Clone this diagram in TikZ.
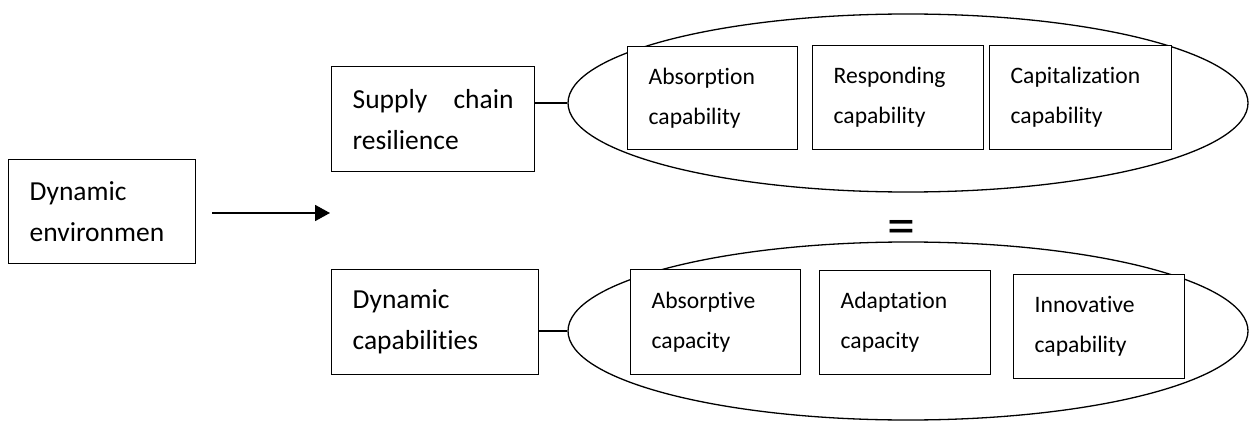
\documentclass[tikz,border=0pt]{standalone}
\usepackage{fontspec}
\setmainfont{Carlito}[Ligatures={NoCommon}]
\usetikzlibrary{shapes.geometric,arrows.meta}

\begin{document}
\begin{tikzpicture}[x=1pt,y=-1pt,
  every node/.style={inner sep=0pt},
  outer/.style={draw, line width=1.3pt, shape=ellipse, inner sep=0pt,
    minimum width=680pt, minimum height=178pt},
  mainbox/.style={draw, line width=1.3pt, fill=white, rectangle, anchor=north west,
    inner xsep=21pt, inner ysep=0pt, align=left,
    font=\fontsize{27.5}{41}\selectfont},
  capbox/.style={draw, line width=1.3pt, fill=white, rectangle, anchor=north west,
    inner xsep=21pt, inner ysep=0pt, align=left,
    font=\fontsize{23.6}{40}\selectfont},
  link/.style={line width=1.3pt},
  flow/.style={line width=1.8pt, -{Triangle[length=15pt,width=16pt]}}]
\useasboundingbox (0,0) rectangle (1249,422);

% the two groupings of capabilities
\node[outer] (e1) at (908,103) {};
\node[outer] (e2) at (908,331) {};

% left-hand concept boxes
\node[mainbox, minimum width=187pt, minimum height=104pt, text width=145pt]
  (env) at (8,159) {Dynamic\\environmen};
\node[mainbox, minimum width=203pt, minimum height=105pt, text width=161pt]
  (scr) at (331,66) {Supply\hfill chain\\resilience};
\node[mainbox, minimum width=207pt, minimum height=105pt, text width=165pt]
  (dc) at (331,269) {Dynamic\\capabilities};

% components of supply chain resilience
\node[capbox, minimum width=170pt, minimum height=103pt, text width=128pt]
  (abs) at (627,46) {Absorption\\capability};
\node[capbox, minimum width=171pt, minimum height=104pt, text width=129pt]
  (resp) at (812,45) {Responding\\capability};
\node[capbox, minimum width=182pt, minimum height=104pt, text width=140pt]
  (capz) at (989,45) {Capitalization\\capability};

% components of dynamic capabilities
\node[capbox, minimum width=170pt, minimum height=105pt, text width=128pt]
  (absv) at (630,269) {Absorptive\\capacity};
\node[capbox, minimum width=171pt, minimum height=104pt, text width=129pt]
  (adap) at (819,270) {Adaptation\\capacity};
\node[capbox, minimum width=171pt, minimum height=104pt, text width=129pt]
  (innov) at (1013,274) {Innovative\\capability};

% equivalence between the two groupings
\node[anchor=base] (eq) at (901.5,244) {\fontsize{56}{56}\selectfont =};

% connectors
\draw[link] (scr.east |- e1.west) -- (e1.west);
\draw[link] (dc.east |- e2.west) -- (e2.west);
\coordinate (tip) at (330,213);
\draw[flow, shorten <=16pt] (env.east |- tip) -- (tip);
\end{tikzpicture}
\end{document}
